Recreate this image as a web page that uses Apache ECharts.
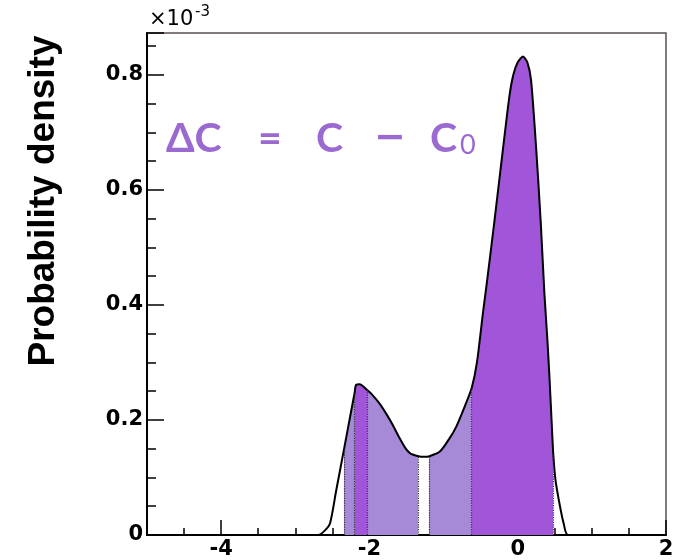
<!DOCTYPE html>
<html>
<head>
<meta charset="utf-8">
<script src="https://cdn.jsdelivr.net/npm/echarts@6/dist/echarts.min.js"></script>
<style>html,body{margin:0;padding:0;background:#fff}#c{width:677px;height:560px}</style>
</head>
<body>
<div id="c"></div>
<script>
// ΔC values (x) and probability density (×10^-3)
const deltaC = [-5, -2.69, -2.60, -2.53, -2.45, -2.34, -2.25, -2.20, -2.18, -2.13, -2.08, -2.03, -1.97, -1.86, -1.76, -1.68, -1.60, -1.52, -1.45, -1.34, -1.26, -1.19, -1.05, -0.92, -0.83, -0.71, -0.62, -0.55, -0.47, -0.42, -0.31, -0.20, -0.11, -0.06, 0.00, 0.07, 0.13, 0.18, 0.25, 0.31, 0.36, 0.40, 0.43, 0.46, 0.48, 0.51, 0.57, 0.62, 0.68, 2];
const density = [0, 0, 0.008, 0.021, 0.076, 0.151, 0.213, 0.247, 0.261, 0.262, 0.258, 0.252, 0.245, 0.228, 0.208, 0.190, 0.170, 0.152, 0.142, 0.137, 0.136, 0.137, 0.145, 0.168, 0.188, 0.225, 0.256, 0.300, 0.385, 0.435, 0.550, 0.670, 0.765, 0.800, 0.822, 0.832, 0.822, 0.791, 0.670, 0.545, 0.420, 0.340, 0.270, 0.190, 0.140, 0.095, 0.050, 0.020, 0, 0];
// shaded intervals: [from, to, kind]
const bands = [[-2.34, -2.20, 'light'], [-2.20, -2.03, 'dark'], [-2.03, -1.34, 'light'], [-1.19, -0.62, 'light'], [-0.62, 0.48, 'dark']];
const boundaries = [-2.34, -2.20, -2.03, -1.34, -1.19, -0.62, 0.48];
const xTicks = [-4, -2, 0, 2];
const yTicks = [0, 0.2, 0.4, 0.6, 0.8];

const colors = {light: '#a68ad8', dark: '#a155d8'};
const pts = deltaC.map((x, i) => [x, density[i]]);
const yAt = x => density[deltaC.indexOf(x)];

const pieces = [];
let prev = -5;
bands.forEach(b => {
  if (b[0] > prev) pieces.push({gte: prev, lt: b[0], color: 'rgba(255,255,255,0)'});
  pieces.push({gte: b[0], lt: b[1], color: colors[b[2]]});
  prev = b[1];
});
pieces.push({gte: prev, lte: 2, color: 'rgba(255,255,255,0)'});

const W = 677, L = 147, R = 11;
const unit = (W - L - R) / 7;
const chart = echarts.init(document.getElementById('c'));
const lab = {fontFamily: 'DejaVu Sans', fontWeight: 'bold', fontSize: 21, color: '#000'};
const purple = '#9b6ad0';
const ann = (t, x, fam, size) => ({type: 'text', x: x, y: 139, style: {text: t, fontFamily: fam || 'Lato', fontWeight: 'bold', fontSize: size || 41, fill: purple, verticalAlign: 'middle'}});
chart.setOption({
  animation: false,
  grid: [
    {left: L, right: R, top: 33, bottom: 25, show: true, borderColor: '#5a5050', borderWidth: 1.5},
    {left: L + unit, right: R, top: 33, bottom: 25, show: false}
  ],
  xAxis: [{
    type: 'value', min: -5, max: 2, interval: 0.5,
    axisLine: {onZero: false, lineStyle: {color: '#000', width: 2}},
    axisTick: {inside: true, length: 7, lineStyle: {color: '#000', width: 1.5}},
    splitLine: {show: false},
    axisLabel: {show: false}
  }, {
    gridIndex: 1, type: 'value', min: -4, max: 2, interval: 2,
    axisLine: {show: false, onZero: false},
    axisTick: {inside: true, length: 14, lineStyle: {color: '#000', width: 1.5}},
    splitLine: {show: false},
    axisLabel: Object.assign({margin: 5, formatter: v => xTicks.includes(v) ? String(v) : ''}, lab)
  }],
  yAxis: [{
    type: 'value', min: 0, max: 0.873, interval: 0.2,
    axisLine: {show: true, onZero: false, lineStyle: {color: '#000', width: 2}},
    axisTick: {show: true, inside: true, length: 17, lineStyle: {color: '#000', width: 1.5}},
    minorTick: {show: true, splitNumber: 4, length: 9, lineStyle: {color: '#000', width: 1.5}},
    splitLine: {show: false},
    axisLabel: Object.assign({margin: 4, showMaxLabel: false, formatter: v => v === 0 ? '0' : (yTicks.includes(Math.round(v*10)/10) ? v.toFixed(1) : '')}, lab)
  }, {
    gridIndex: 1, type: 'value', min: 0, max: 1, show: false
  }],
  visualMap: {show: false, type: 'piecewise', dimension: 0, seriesIndex: 0, pieces: pieces},
  series: [
    {type: 'line', data: pts, symbol: 'none', smooth: 0.25, lineStyle: {width: 0}, areaStyle: {opacity: 1}, z: 2},
    {type: 'line', data: pts, symbol: 'none', smooth: 0.25, lineStyle: {color: '#000', width: 2}, z: 4,
     markLine: {silent: true, symbol: 'none', label: {show: false},
       lineStyle: {type: 'dotted', color: '#333', width: 1.2},
       data: boundaries.map(x => [{coord: [x, 0]}, {coord: [x, yAt(x)]}])}}
  ],
  graphic: [
    {type: 'text', x: 44, y: 201, rotation: Math.PI/2,
     style: {text: 'Probability density', fontFamily: 'Liberation Sans', fontWeight: 'bold', fontSize: 37, fill: '#000', align: 'center', verticalAlign: 'middle'}},
    {type: 'text', x: 149, y: 30, style: {text: '×10', fontFamily: 'DejaVu Sans', fontSize: 21, fill: '#000', verticalAlign: 'bottom'}},
    {type: 'text', x: 195, y: 20, style: {text: '-3', fontFamily: 'DejaVu Sans', fontSize: 15, fill: '#000', verticalAlign: 'bottom'}},
    ann('ΔC', 166), ann('=', 258), ann('C', 316), ann('−', 374, 'DejaVu Sans', 38), ann('C', 430),
    {type: 'text', x: 460, y: 159, style: {text: '0', fontFamily: 'Lato', fontSize: 27, fill: purple, verticalAlign: 'bottom'}}
  ]
});
</script>
</body>
</html>
